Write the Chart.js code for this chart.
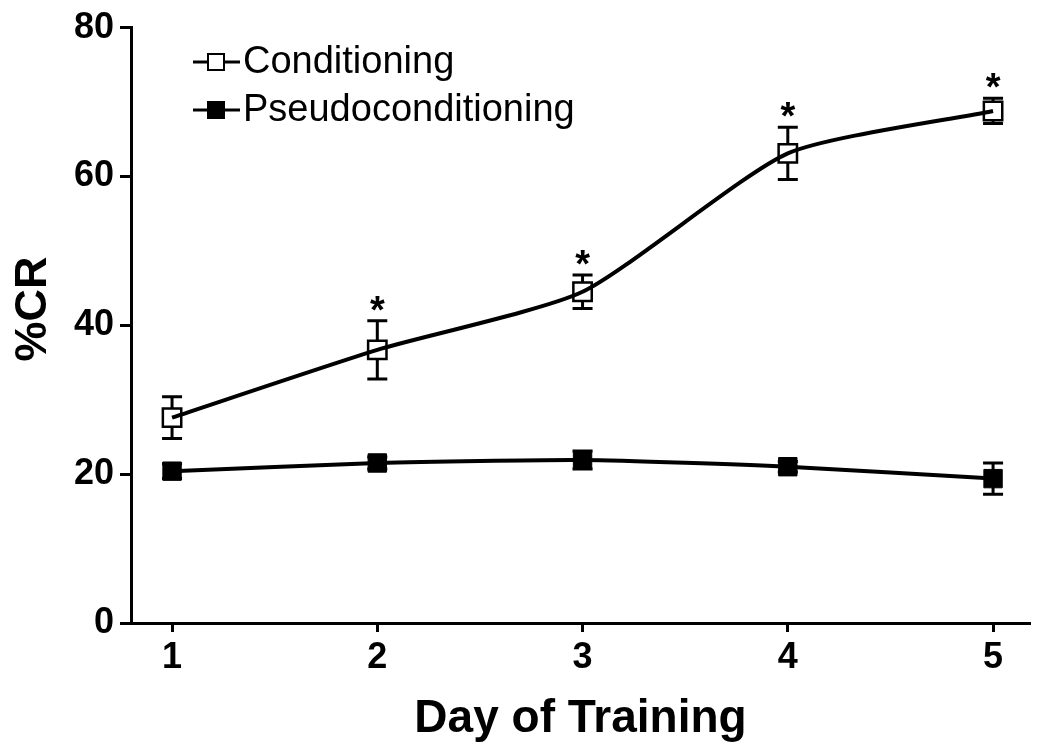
<!DOCTYPE html>
<html>
<head>
<meta charset="utf-8">
<script src="https://cdn.jsdelivr.net/npm/chart.js@4/dist/chart.umd.min.js"></script>
<style>
html,body{margin:0;padding:0;background:#fff;}
#wrap{width:1050px;height:753px;}
</style>
</head>
<body>
<div id="wrap"><canvas id="c" width="1050" height="753"></canvas></div>
<script>
const days = [1, 2, 3, 4, 5];
const condMean = [27.6, 36.7, 44.5, 63.1, 68.8];
const condErr = [2.8, 3.9, 2.25, 3.5, 1.7];
const pseudoMean = [20.4, 21.5, 21.9, 21.0, 19.4];
const pseudoErr = [1.0, 0.8, 1.2, 0.7, 2.1];
const significant = [false, true, true, true, true];
const yTicks = [0, 20, 40, 60, 80];
const seriesNames = ['Conditioning', 'Pseudoconditioning'];
const xTitle = 'Day of Training';
const yTitle = '%CR';

const FONT = '"Liberation Sans", Arial, sans-serif';

const errPlugin = {
  id: 'errbars',
  beforeDatasetsDraw(chart) {
    const { ctx, scales: { x, y } } = chart;
    ctx.save();
    ctx.strokeStyle = '#000';
    ctx.lineWidth = 3;
    [[condMean, condErr], [pseudoMean, pseudoErr]].forEach(([m, e]) => {
      days.forEach((d, i) => {
        const px = x.getPixelForValue(d);
        const t = y.getPixelForValue(m[i] + e[i]);
        const b = y.getPixelForValue(m[i] - e[i]);
        ctx.beginPath();
        ctx.moveTo(px, t); ctx.lineTo(px, b);
        ctx.moveTo(px - 10, t); ctx.lineTo(px + 10, t);
        ctx.moveTo(px - 10, b); ctx.lineTo(px + 10, b);
        ctx.stroke();
      });
    });
    ctx.fillStyle = '#fff';
    days.forEach((d, i) => {
      const px = x.getPixelForValue(d);
      const py = y.getPixelForValue(condMean[i]);
      ctx.fillRect(px - 9, py - 9, 18, 18);
    });
    ctx.restore();
  },
  afterDatasetsDraw(chart) {
    const { ctx, scales: { x, y } } = chart;
    ctx.save();
    ctx.fillStyle = '#000';
    ctx.font = 'bold 38px ' + FONT;
    ctx.textAlign = 'center';
    ctx.textBaseline = 'alphabetic';
    days.forEach((d, i) => {
      if (!significant[i]) return;
      const px = x.getPixelForValue(d);
      const t = y.getPixelForValue(condMean[i] + condErr[i]);
      ctx.fillText('*', px, t + 2);
    });
    // legend
    const items = [{ y: 62, filled: false }, { y: 110, filled: true }];
    items.forEach((it, k) => {
      ctx.strokeStyle = '#000';
      ctx.lineWidth = 3;
      ctx.beginPath();
      ctx.moveTo(193, it.y); ctx.lineTo(240, it.y);
      ctx.stroke();
      ctx.fillStyle = it.filled ? '#000' : '#fff';
      ctx.fillRect(208, it.y - 8, 16, 16);
      ctx.lineWidth = 2;
      ctx.strokeRect(208, it.y - 8, 16, 16);
      ctx.fillStyle = '#000';
      ctx.font = '38px ' + FONT;
      ctx.textAlign = 'left';
      ctx.textBaseline = 'middle';
      ctx.fillText(seriesNames[k], 243, it.y + 1);
    });
    // y axis title
    ctx.save();
    ctx.translate(34, 309);
    ctx.rotate(-Math.PI / 2);
    ctx.font = 'bold 45px ' + FONT;
    ctx.textAlign = 'center';
    ctx.textBaseline = 'middle';
    ctx.fillText(yTitle, 0, 0);
    ctx.restore();
    ctx.restore();
  }
};

const tickFont = { family: FONT, size: 36, weight: 'bold' };
const titleFont = { family: FONT, size: 46, weight: 'bold' };

new Chart(document.getElementById('c'), {
  type: 'line',
  data: {
    datasets: [
      {
        label: seriesNames[0],
        data: days.map((d, i) => ({ x: d, y: condMean[i] })),
        borderColor: '#000',
        borderWidth: 4,
        tension: 0.2,
        pointStyle: 'rect',
        pointRadius: 13,
        pointBorderWidth: 2.5,
        pointBorderColor: '#000',
        pointBackgroundColor: 'rgba(0,0,0,0)'
      },
      {
        label: seriesNames[1],
        data: days.map((d, i) => ({ x: d, y: pseudoMean[i] })),
        borderColor: '#000',
        borderWidth: 4,
        tension: 0.2,
        pointStyle: 'rect',
        pointRadius: 13,
        pointBorderWidth: 1,
        pointBorderColor: '#000',
        pointBackgroundColor: '#000'
      }
    ]
  },
  options: {
    responsive: false,
    animation: false,
    devicePixelRatio: 1,
    layout: { padding: { top: 22, right: 20, left: 0, bottom: 0 } },
    plugins: { legend: { display: false }, tooltip: { enabled: false } },
    scales: {
      x: {
        type: 'linear',
        min: 0.8,
        max: 5.18,
        afterBuildTicks: s => { s.ticks = days.map(v => ({ value: v })); },
        afterFit: s => { s.height = 130; },
        grid: { drawOnChartArea: false, tickLength: 9, tickWidth: 3, tickColor: '#000' },
        border: { color: '#000', width: 3 },
        ticks: { font: tickFont, color: '#000', padding: 4 },
        title: { display: true, text: xTitle, font: titleFont, color: '#000', padding: { top: 0, bottom: 6 } }
      },
      y: {
        min: 0,
        max: 80,
        afterBuildTicks: s => { s.ticks = yTicks.map(v => ({ value: v })); },
        afterFit: s => { s.width = 131; },
        grid: { drawOnChartArea: false, tickLength: 11, tickWidth: 3, tickColor: '#000' },
        border: { color: '#000', width: 3 },
        ticks: { font: tickFont, color: '#000', padding: 6 },
        title: { display: false }
      }
    }
  },
  plugins: [errPlugin]
});
</script>
</body>
</html>
